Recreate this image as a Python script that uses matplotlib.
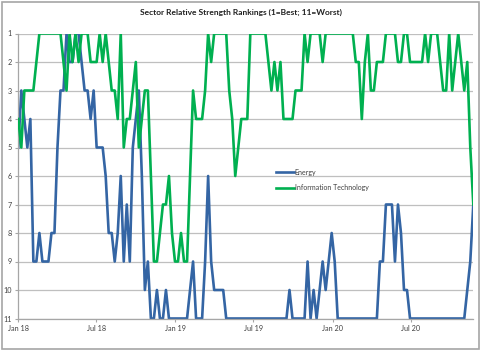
import pandas as pd
import matplotlib
matplotlib.use("Agg")
import matplotlib.pyplot as plt
import matplotlib.dates as mdates
from matplotlib.patches import Rectangle

plt.rcParams['font.family'] = ['Lato', 'DejaVu Sans']

# Weekly sector ranks (1 = best, 11 = worst)
start_date = '2018-01-05'
energy = [
    5, 3, 4, 5, 4, 9, 9, 8, 9, 9,
    9, 8, 8, 5, 3, 3, 1, 2, 2, 1,
    1, 2, 3, 3, 4, 3, 5, 5, 5, 6,
    8, 8, 9, 8, 6, 9, 7, 9, 5, 4,
    3, 6, 10, 9, 11, 11, 10, 11, 11, 10,
    11, 11, 11, 11, 11, 11, 11, 10, 9, 11,
    11, 11, 9, 6, 9, 10, 10, 10, 10, 11,
    11, 11, 11, 11, 11, 11, 11, 11, 11, 11,
    11, 11, 11, 11, 11, 11, 11, 11, 11, 11,
    10, 11, 11, 11, 11, 11, 9, 11, 10, 11,
    10, 9, 10, 9, 8, 9, 11, 11, 11, 11,
    11, 11, 11, 11, 11, 11, 11, 11, 11, 11,
    9, 9, 7, 7, 7, 9, 7, 8, 10, 10,
    11, 11, 11, 11, 11, 11, 11, 11, 11, 11,
    11, 11, 11, 11, 11, 11, 11, 11, 11, 10,
    9, 7,
]
info_tech = [
    4, 5, 3, 3, 3, 3, 2, 1, 1, 1,
    1, 1, 1, 1, 1, 2, 3, 1, 2, 1,
    2, 1, 1, 1, 2, 2, 2, 1, 2, 1,
    2, 3, 3, 4, 1, 5, 4, 4, 3, 2,
    5, 4, 3, 3, 6, 9, 9, 8, 7, 7,
    6, 8, 9, 9, 8, 9, 9, 6, 3, 4,
    4, 4, 3, 1, 2, 1, 1, 1, 1, 1,
    3, 4, 6, 5, 4, 4, 4, 1, 1, 1,
    1, 1, 1, 2, 3, 2, 3, 2, 4, 4,
    4, 4, 3, 3, 3, 1, 2, 1, 1, 1,
    1, 2, 1, 1, 1, 1, 1, 1, 1, 1,
    1, 1, 2, 2, 4, 2, 1, 3, 3, 2,
    2, 2, 1, 1, 1, 1, 2, 2, 1, 1,
    2, 2, 2, 2, 2, 1, 2, 1, 1, 1,
    2, 3, 3, 1, 3, 2, 1, 2, 3, 2,
    5, 7,
]
ranks = list(range(1, 12))

dates = pd.date_range(start_date, periods=len(energy), freq='7D')
tick_dates = [dates[0] + pd.DateOffset(months=6 * k) for k in range(6)]

W, H = 481, 350
fig = plt.figure(figsize=(W / 100, H / 100), dpi=100)
fig.patch.set_facecolor('white')

# chart area border
fig.add_artist(Rectangle((1.5 / W, 1.5 / H), 1 - 3 / W, 1 - 3 / H,
                         transform=fig.transFigure, fill=False,
                         edgecolor='#a6a6a6', linewidth=1.2))

ax = fig.add_axes([18.3 / W, 1 - 318.5 / H, 455 / W, 285 / H])

for r in ranks:
    ax.axhline(r, color='#bfbfbf', linewidth=0.9, zorder=0)

ax.plot(dates, energy, color='#3465a4', linewidth=1.9, label='Energy', zorder=2)
ax.plot(dates, info_tech, color='#00b050', linewidth=1.9,
        label='Information Technology', zorder=3)

ax.set_xlim(dates[0], dates[-1])
ax.set_ylim(11, 1)
ax.set_yticks(ranks)
ax.set_xticks(tick_dates)
ax.xaxis.set_major_formatter(mdates.DateFormatter('%b %y'))

for side in ('top', 'right'):
    ax.spines[side].set_visible(False)
for side in ('left', 'bottom'):
    ax.spines[side].set_color('#a6a6a6')
    ax.spines[side].set_linewidth(0.9)

ax.tick_params(axis='both', colors='#a6a6a6', labelcolor='#404040',
               labelsize=5.2, length=2.5, width=0.8, pad=2)

ax.legend(loc='upper left', bbox_to_anchor=(0.56, 0.535), frameon=False,
          fontsize=5.0, handlelength=2.6, handletextpad=0.1,
          labelspacing=1.2, borderaxespad=0, labelcolor='#404040')

fig.text(0.5, 1 - 12 / H, 'Sector Relative Strength Rankings (1=Best; 11=Worst)',
         ha='center', va='center', fontsize=6.0, fontweight='bold',
         color='#202020')

fig.savefig('out.png', dpi=100)
